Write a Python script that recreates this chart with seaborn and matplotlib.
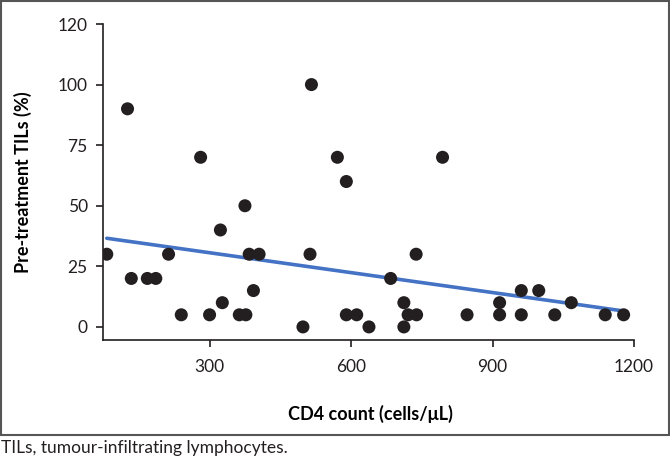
import matplotlib
matplotlib.use("Agg")
import matplotlib.pyplot as plt
import seaborn as sns
import pandas as pd
from matplotlib.patches import Rectangle

# Data
cd4_count = [82, 126, 134, 168, 186, 213, 240, 281, 300, 323, 327, 363, 375, 377,
             384, 393, 405, 498, 513, 516, 571, 590, 590, 612, 638, 684, 712, 712,
             721, 738, 739, 794, 846, 915, 915, 961, 961, 998, 1032, 1067, 1139, 1178]
tils_pct = [30, 90, 20, 20, 20, 30, 5, 70, 5, 40, 10, 5, 50, 5,
            30, 15, 30, 0, 30, 100, 70, 60, 5, 5, 0, 20, 10, 0,
            5, 30, 5, 70, 5, 10, 5, 15, 5, 15, 5, 10, 5, 5]

x_ticks = [300, 600, 900, 1200]
x_tick_labels = ["300", "600", "900", "1200"]
y_ticks = [0, 25, 50, 75, 100, 125]
y_tick_labels = ["0", "25", "50", "75", "100", "120"]

x_label = "CD4 count (cells/\u03bcL)"
y_label = "Pre-treatment TILs (%)"
caption = "TILs, tumour-infiltrating lymphocytes."

df = pd.DataFrame({"cd4": cd4_count, "tils": tils_pct})

sns.set_theme(style="ticks")
plt.rcParams["font.family"] = ["Lato", "DejaVu Sans"]

fig = plt.figure(figsize=(6.7, 4.65), dpi=100)
ax = fig.add_axes([103 / 670, 1 - 340 / 465, (634 - 103) / 670, (340 - 24) / 465])

sns.regplot(data=df, x="cd4", y="tils", ax=ax, ci=None,
            scatter_kws=dict(s=88, color="#231f20", edgecolor="none", alpha=1, zorder=3),
            line_kws=dict(color="#4472c4", lw=2.6, zorder=2))

ax.set_xlim(74, 1200)
ax.set_ylim(-5.4, 125)
ax.set_xticks(x_ticks)
ax.set_xticklabels(x_tick_labels)
ax.set_yticks(y_ticks)
ax.set_yticklabels(y_tick_labels)
ax.tick_params(axis="both", direction="out", length=5, width=1.2, colors="#231f20",
               labelsize=12.5)
ax.tick_params(axis="x", pad=9)
ax.tick_params(axis="y", pad=6)
for s in ["top", "right"]:
    ax.spines[s].set_visible(False)
for s in ["left", "bottom"]:
    ax.spines[s].set_linewidth(1.2)
    ax.spines[s].set_color("#231f20")

ax.set_xlabel(x_label, fontsize=13, fontweight="bold", color="#000000")
ax.set_ylabel(y_label, fontsize=13, fontweight="bold", color="#000000")
ax.xaxis.set_label_coords((370 - 103) / 531, -(405 - 340) / 316)
ax.yaxis.set_label_coords(-(103 - 32) / 531, (340 - 182) / 316)

fig.patches.append(Rectangle((0.5 / 670, 1 - 435 / 465), 668 / 670, 434 / 465,
                             transform=fig.transFigure, fill=False,
                             edgecolor="#555555", lw=1.5))
fig.text(1 / 670, 1 - 448 / 465, caption, fontsize=12.5, va="center", ha="left",
         color="#231f20")

fig.savefig("out.png", dpi=100)
